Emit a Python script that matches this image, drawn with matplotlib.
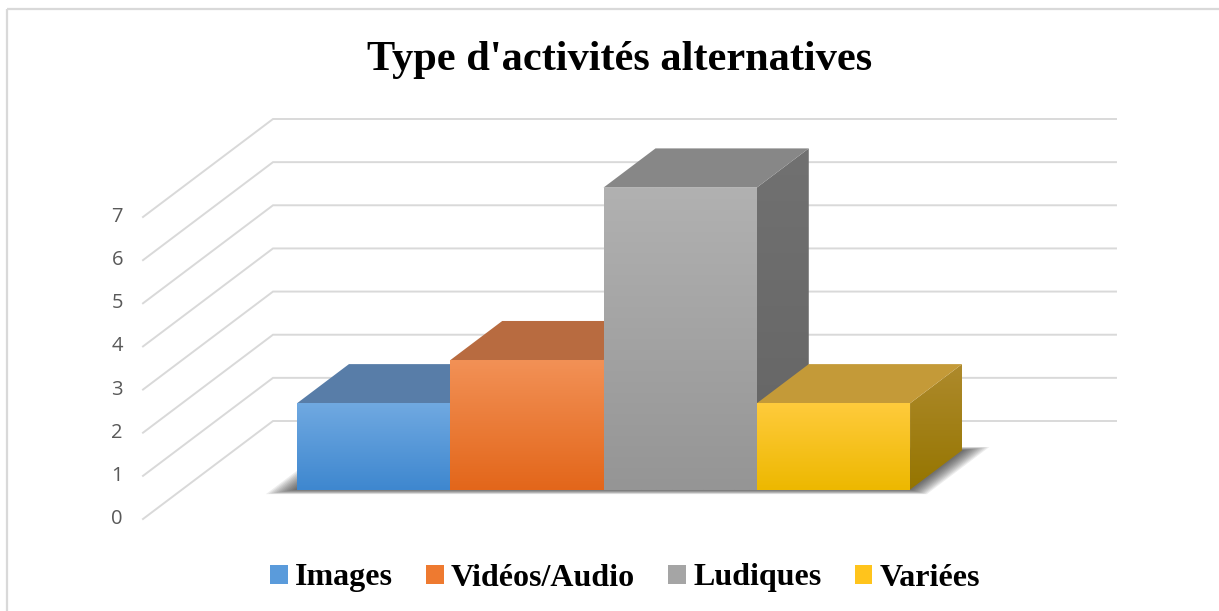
import numpy as np
import matplotlib
matplotlib.use('Agg')
import matplotlib.pyplot as plt
from matplotlib.patches import Polygon, Rectangle, Patch
from matplotlib.colors import LinearSegmentedColormap

# ---------------- data ----------------
title = "Type d'activités alternatives"
series = ["Images", "Vidéos/Audio", "Ludiques", "Variées"]
values = [2, 3, 7, 2]
yticks = [0, 1, 2, 3, 4, 5, 6, 7]

# ---------------- styles ----------------
front_top = ["#70A9E1", "#F29156", "#B1B1B1", "#FFCB3C"]
front_bot = ["#3E87CF", "#E3661A", "#959595", "#EDB800"]
top_col = ["#587DA8", "#B86B40", "#878787", "#C49A38"]
side_top = ["#4A6D96", "#A0552C", "#717171", "#AE8A2C"]
side_bot = ["#3A5A80", "#8A4A20", "#646464", "#957500"]
legend_col = ["#5A9BDB", "#EE7A30", "#A5A5A5", "#FFC41C"]

W, H = 1219, 611
fig = plt.figure(figsize=(W / 100, H / 100), dpi=100)
ax = fig.add_axes([0, 0, 1, 1])

# oblique projection of the 3-D chart box (pixel units)
X0, Y0 = 143.0, 519.0      # front-left floor corner
FLOOR_W = 843.0            # width of the floor
YMAX = max(yticks)
UNIT = (519.0 - 217.0) / YMAX
DEPTH = (130.0, -98.0)     # screen vector of full depth
GAP = 1.5                  # gap width (150 %)
Z0, Z1 = 0.3, 0.7          # bar depth span

n = len(values)
bw = FLOOR_W / (n + GAP)
margin = GAP * bw / 2


def proj(x, v, z):
    return (X0 + x + z * DEPTH[0], Y0 - v * UNIT + z * DEPTH[1])


def grad_fill(pts, c1, c2, zorder, horizontal=False):
    poly = Polygon(pts, closed=True, facecolor='none', edgecolor='none')
    ax.add_patch(poly)
    xs = [p[0] for p in pts]
    ys = [p[1] for p in pts]
    cmap = LinearSegmentedColormap.from_list('g', [c1, c2])
    g = np.linspace(0, 1, 256)
    img = g.reshape(1, -1) if horizontal else g.reshape(-1, 1)
    im = ax.imshow(img, cmap=cmap, extent=[min(xs), max(xs), max(ys), min(ys)],
                   aspect='auto', zorder=zorder, interpolation='bilinear')
    im.set_clip_path(poly)


# border
ax.add_patch(Rectangle((7, 9), W, H, fill=False, edgecolor='#D9D9D9', lw=1.6, zorder=1))

# gridlines (left wall + back wall)
for v in yticks:
    a = proj(0, v, 0)
    b = proj(0, v, 1)
    c = proj(FLOOR_W, v, 1)
    ax.plot([a[0], b[0], c[0]], [a[1], b[1], c[1]], color='#D9D9D9', lw=1.4,
            solid_joinstyle='miter', zorder=2)
    ax.text(a[0] - 20, a[1], str(v), ha='right', va='center', fontsize=14.5,
            color='#595959', family='Open Sans', zorder=3)

# shadow of the bars on the floor
xl_all = margin
xr_all = margin + n * bw
steps = 12
for k in range(steps, 0, -1):
    e = k * 1.9
    zf = Z0 - (0.2 * e) / abs(DEPTH[1])
    zb = Z1 + (0.15 * e) / abs(DEPTH[1])
    pts = [proj(xl_all - e * 1.1, 0, zf), proj(xr_all + e, 0, zf),
           proj(xr_all + e, 0, zb), proj(xl_all - e * 1.1, 0, zb)]
    ax.add_patch(Polygon(pts, closed=True, facecolor='#202020', alpha=0.08,
                         edgecolor='none', zorder=4))

# bars
for i, v in enumerate(values):
    xl = margin + i * bw
    xr = xl + bw
    zo = 10 + i * 3
    front = [proj(xl, 0, Z0), proj(xr, 0, Z0), proj(xr, v, Z0), proj(xl, v, Z0)]
    top = [proj(xl, v, Z0), proj(xr, v, Z0), proj(xr, v, Z1), proj(xl, v, Z1)]
    side = [proj(xr, 0, Z0), proj(xr, 0, Z1), proj(xr, v, Z1), proj(xr, v, Z0)]
    grad_fill(side, side_top[i], side_bot[i], zo)
    ax.add_patch(Polygon(top, closed=True, facecolor=top_col[i], edgecolor='none', zorder=zo + 1))
    grad_fill(front, front_top[i], front_bot[i], zo + 2)

ax.set_xlim(0, W)
ax.set_ylim(H, 0)
ax.axis('off')

# title
ax.text(619.5, 70, title, ha='center', va='baseline', fontsize=30.5,
        fontweight='bold', family='Liberation Serif', color='black', zorder=20)

# legend
handles = [Patch(facecolor=c, edgecolor='none') for c in legend_col]
fig.legend(handles, series, loc='center', bbox_to_anchor=(625 / W, 1 - 578 / H),
           ncol=4, frameon=False,
           prop={'family': 'Liberation Serif', 'weight': 'bold', 'size': 23},
           handlelength=0.55, handleheight=0.55, handletextpad=0.22,
           columnspacing=1.05, borderaxespad=0, borderpad=0)

fig.savefig('out.png', dpi=100, facecolor='white')
